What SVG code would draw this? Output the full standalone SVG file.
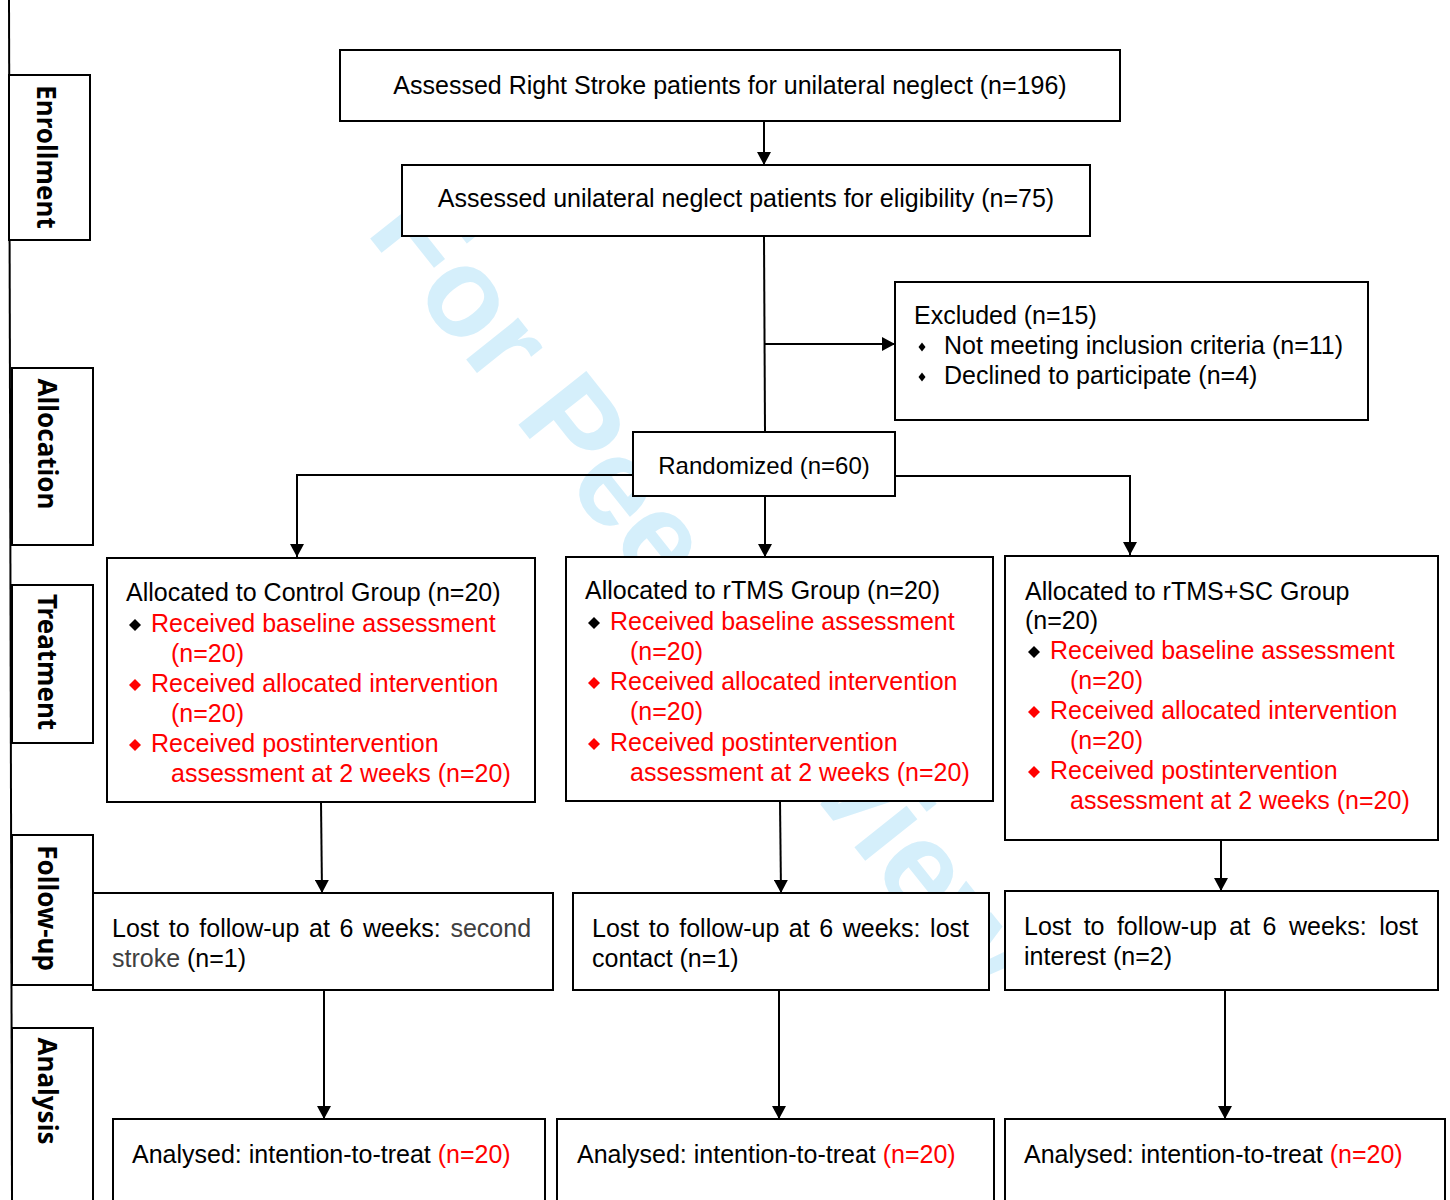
<svg xmlns="http://www.w3.org/2000/svg" width="1450" height="1200" viewBox="0 0 1450 1200">
<style>
.bg{fill:#fff}
.box{fill:#fff;stroke:#000;stroke-width:2}
.ln{fill:none;stroke:#000;stroke-width:2}
.arr{marker-end:url(#ah)}
.t{font-family:"Liberation Sans",Arial,sans-serif;font-size:25px;fill:#000}
.r{fill:#f00}
.g{fill:#404040}
.st{font-family:"Noto Sans","Open Sans",sans-serif;font-weight:bold;font-size:26px;fill:#000}
.wm{font-family:"Liberation Sans",Arial,sans-serif;font-weight:bold;font-size:126px;fill:#D5EFFB}
.db{fill:#000}
.dr{fill:#f00}
</style>
<defs>
<marker id="ah" viewBox="0 0 13 14" refX="13" refY="7" markerWidth="13" markerHeight="14" markerUnits="userSpaceOnUse" orient="auto">
<path d="M0,0 L13,7 L0,14 z" fill="#000"/>
</marker>
<path id="dm" d="M0,-6 L6,0 L0,6 L-6,0 z"/>
<path id="ds" d="M0,-4.5 L3.5,0 L0,4.5 L-3.5,0 z"/>
</defs>
<rect class="bg" x="0" y="0" width="1450" height="1200"/>

<text class="wm" x="365" y="232" transform="rotate(51.5 365 232)">For Peer Review</text>

<line class="ln" x1="9" y1="0" x2="12" y2="1200"/>

<g id="stage-enrollment">
<rect class="box" x="9" y="75" width="81" height="165"/>
<text class="st" text-anchor="middle" transform="translate(37,157) rotate(90)">Enrollment</text>
</g>
<g id="stage-allocation">
<rect class="box" x="12" y="368" width="81" height="177"/>
<text class="st" text-anchor="middle" transform="translate(38,444) rotate(90)">Allocation</text>
</g>
<g id="stage-treatment">
<rect class="box" x="12" y="585" width="81" height="158"/>
<text class="st" text-anchor="middle" transform="translate(38,662) rotate(90)">Treatment</text>
</g>
<g id="stage-followup">
<rect class="box" x="12" y="835" width="81" height="150"/>
<text class="st" text-anchor="middle" transform="translate(38,908) rotate(90)">Follow-up</text>
</g>
<g id="stage-analysis">
<rect class="box" x="12" y="1028" width="81" height="190"/>
<text class="st" text-anchor="middle" transform="translate(38,1091) rotate(90)">Analysis</text>
</g>

<g id="connectors">
<line class="ln arr" x1="764" y1="121" x2="764" y2="165"/>
<line class="ln" x1="764" y1="236" x2="765" y2="432"/>
<line class="ln arr" x1="764" y1="344" x2="895" y2="344"/>
<polyline class="ln arr" points="633,475 297,475 297,557"/>
<line class="ln arr" x1="765" y1="496" x2="765" y2="557"/>
<polyline class="ln arr" points="895,476 1130,476 1130,555"/>
<line class="ln arr" x1="321" y1="802" x2="322" y2="893"/>
<line class="ln arr" x1="780" y1="801" x2="781" y2="893"/>
<line class="ln arr" x1="1221" y1="840" x2="1221" y2="891"/>
<line class="ln arr" x1="324" y1="990" x2="324" y2="1119"/>
<line class="ln arr" x1="779" y1="990" x2="779" y2="1119"/>
<line class="ln arr" x1="1225" y1="990" x2="1225" y2="1119"/>
</g>

<g id="assessed-stroke">
<rect class="box" x="340" y="50" width="780" height="71"/>
<text class="t" x="730" y="94" text-anchor="middle">Assessed Right Stroke patients for unilateral neglect (n=196)</text>
</g>
<g id="assessed-eligibility">
<rect class="box" x="402" y="165" width="688" height="71"/>
<text class="t" x="746" y="207" text-anchor="middle">Assessed unilateral neglect patients for eligibility (n=75)</text>
</g>
<g id="excluded">
<rect class="box" x="895" y="282" width="473" height="138"/>
<text class="t" x="914" y="324">Excluded (n=15)</text>
<use href="#ds" x="922" y="347" class="db"/>
<text class="t" x="944" y="354">Not meeting inclusion criteria (n=11)</text>
<use href="#ds" x="922" y="377" class="db"/>
<text class="t" x="944" y="384">Declined to participate (n=4)</text>
</g>
<g id="randomized">
<rect class="box" x="633" y="432" width="262" height="64"/>
<text class="t" x="764" y="474" text-anchor="middle" style="font-size:24px">Randomized (n=60)</text>
</g>

<g id="control-group">
<rect class="box" x="107" y="558" width="428" height="244"/>
<text class="t" x="126" y="601">Allocated to Control Group (n=20)</text>
<use href="#dm" x="135" y="625" class="db"/>
<text class="t r" x="151" y="632">Received baseline assessment</text>
<text class="t r" x="171" y="662">(n=20)</text>
<use href="#dm" x="135" y="685" class="dr"/>
<text class="t r" x="151" y="692">Received allocated intervention</text>
<text class="t r" x="171" y="722">(n=20)</text>
<use href="#dm" x="135" y="745" class="dr"/>
<text class="t r" x="151" y="752">Received postintervention</text>
<text class="t r" x="171" y="782">assessment at 2 weeks (n=20)</text>
</g>
<g id="rtms-group">
<rect class="box" x="566" y="557" width="427" height="244"/>
<text class="t" x="585" y="599">Allocated to rTMS Group (n=20)</text>
<use href="#dm" x="594" y="623" class="db"/>
<text class="t r" x="610" y="630">Received baseline assessment</text>
<text class="t r" x="630" y="660">(n=20)</text>
<use href="#dm" x="594" y="683" class="dr"/>
<text class="t r" x="610" y="690">Received allocated intervention</text>
<text class="t r" x="630" y="720">(n=20)</text>
<use href="#dm" x="594" y="744" class="dr"/>
<text class="t r" x="610" y="751">Received postintervention</text>
<text class="t r" x="630" y="781">assessment at 2 weeks (n=20)</text>
</g>
<g id="rtms-sc-group">
<rect class="box" x="1005" y="556" width="433" height="284"/>
<text class="t" x="1025" y="600">Allocated to rTMS+SC Group</text>
<text class="t" x="1025" y="629">(n=20)</text>
<use href="#dm" x="1034" y="652" class="db"/>
<text class="t r" x="1050" y="659">Received baseline assessment</text>
<text class="t r" x="1070" y="689">(n=20)</text>
<use href="#dm" x="1034" y="712" class="dr"/>
<text class="t r" x="1050" y="719">Received allocated intervention</text>
<text class="t r" x="1070" y="749">(n=20)</text>
<use href="#dm" x="1034" y="772" class="dr"/>
<text class="t r" x="1050" y="779">Received postintervention</text>
<text class="t r" x="1070" y="809">assessment at 2 weeks (n=20)</text>
</g>

<g id="lost-control">
<rect class="box" x="93" y="893" width="460" height="97"/>
<text class="t" x="112" y="937" style="word-spacing:2.67px">Lost to follow-up at 6 weeks: <tspan class="g">second</tspan></text>
<text class="t" x="112" y="967"><tspan class="g">stroke</tspan> (n=1)</text>
</g>
<g id="lost-rtms">
<rect class="box" x="573" y="893" width="416" height="97"/>
<text class="t" x="592" y="937" style="word-spacing:2.62px">Lost to follow-up at 6 weeks: lost</text>
<text class="t" x="592" y="967">contact (n=1)</text>
</g>
<g id="lost-rtms-sc">
<rect class="box" x="1005" y="891" width="433" height="99"/>
<text class="t" x="1024" y="935" style="word-spacing:5.46px">Lost to follow-up at 6 weeks: lost</text>
<text class="t" x="1024" y="965">interest (n=2)</text>
</g>

<g id="analysed-control">
<rect class="box" x="113" y="1119" width="432" height="100"/>
<text class="t" x="132" y="1163">Analysed: intention-to-treat <tspan class="r">(n=20)</tspan></text>
</g>
<g id="analysed-rtms">
<rect class="box" x="557" y="1119" width="437" height="100"/>
<text class="t" x="577" y="1163">Analysed: intention-to-treat <tspan class="r">(n=20)</tspan></text>
</g>
<g id="analysed-rtms-sc">
<rect class="box" x="1005" y="1119" width="440" height="100"/>
<text class="t" x="1024" y="1163">Analysed: intention-to-treat <tspan class="r">(n=20)</tspan></text>
</g>
</svg>
